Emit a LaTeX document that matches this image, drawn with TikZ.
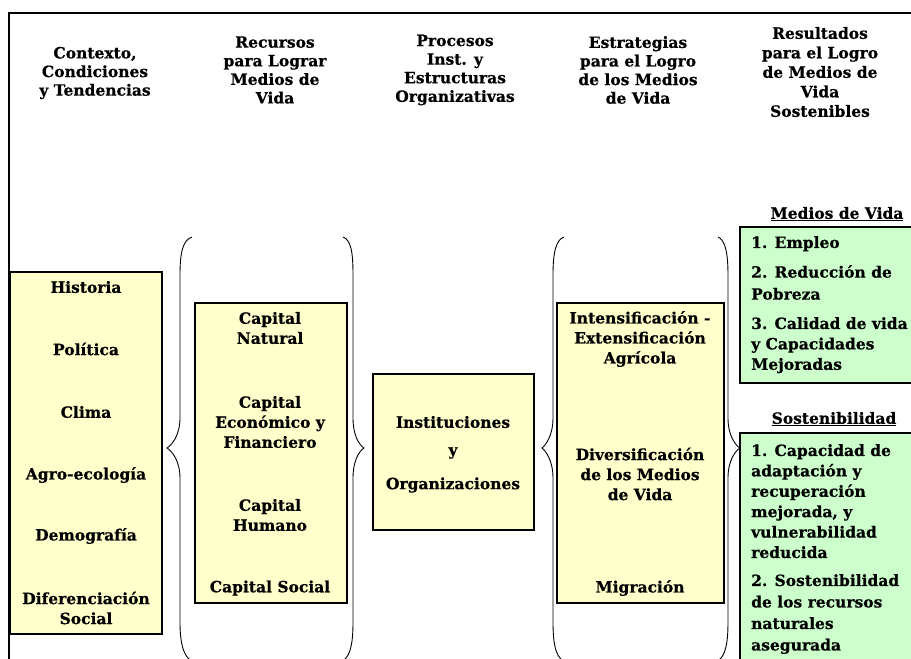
\documentclass[tikz,border=0pt]{standalone}
\usepackage{fontspec}
\setmainfont[BoldFeatures={FakeBold=0.6}]{DejaVu Serif}
\definecolor{boxyellow}{HTML}{FFFFCC}
\definecolor{boxgreen}{HTML}{CCFFCC}
\tikzset{
  txt/.style={font=\fontsize{15.5}{20}\selectfont\bfseries, inner sep=0pt, align=center},
  htxt/.style={font=\fontsize{15.5}{18.6}\selectfont\bfseries, inner sep=0pt, align=center},
  ltxt/.style={font=\fontsize{15.5}{20.4}\selectfont\bfseries, inner sep=0pt, align=left, anchor=north west},
  ybox/.style={draw=black, line width=1.1pt, fill=boxyellow},
  gbox/.style={draw=black, line width=1.1pt, fill=boxgreen},
  brace/.style={draw=black, line width=0.9pt},
}
\begin{document}
\begin{tikzpicture}[x=1pt,y=-1pt]
\useasboundingbox (0,0) rectangle (911,659);
\clip (0,0) rectangle (911,659);
% frame
\draw[line width=2pt] (911,13) -- (9,13) -- (9,660);
% headers
\node[htxt] (h1) at (95,73) {Contexto,\\Condiciones\\y Tendencias};
\node[htxt] (h2) at (275,70) {Recursos\\para Lograr\\Medios de\\Vida};
\node[htxt] (h3) at (455,70) {Procesos\\Inst. y\\Estructuras\\Organizativas};
\node[htxt] (h4) at (638,70) {Estrategias\\para el Logro\\de los Medios\\de Vida};
\node[htxt, font=\fontsize{15.5}{19.5}\selectfont\bfseries] (h5) at (820,72) {Resultados\\para el Logro\\de Medios de\\Vida\\Sostenibles};
% boxes
\draw[ybox] (10,272) rectangle (162,634);
\draw[ybox] (195,303) rectangle (347,603);
\draw[ybox] (373,374) rectangle (534,530);
\draw[ybox] (557,303) rectangle (724,603);
\draw[gbox] (740,227) rectangle (920,383);
\draw[gbox] (740,433) rectangle (920,700);
% braces
\draw[brace] (192,237) .. controls (183,240) and (180,252) .. (180,275) -- (180,418)
  .. controls (180,435) and (172,445) .. (167,448)
  .. controls (172,451) and (180,461) .. (180,478) -- (180,622)
  .. controls (180,645) and (184,655) .. (190,660);
\draw[brace] (343,237) .. controls (351,240) and (353,252) .. (353,275) -- (353,418)
  .. controls (353,435) and (359,445) .. (364,448)
  .. controls (359,451) and (353,461) .. (353,478) -- (353,622)
  .. controls (353,645) and (350,655) .. (344,660);
\draw[brace] (564,237) .. controls (556,240) and (553,252) .. (553,275) -- (553,418)
  .. controls (553,435) and (546,445) .. (542,448)
  .. controls (546,451) and (553,461) .. (553,478) -- (553,622)
  .. controls (553,645) and (556,655) .. (562,660);
\draw[brace] (718,237) .. controls (725,240) and (728,252) .. (728,275) -- (728,418)
  .. controls (728,435) and (735,445) .. (740,448)
  .. controls (735,451) and (728,461) .. (728,478) -- (728,622)
  .. controls (728,645) and (725,655) .. (719,660);
% column 1
\node[txt] (c1) at (86,287) {Historia};
\node[txt] (c2) at (86,349) {Política};
\node[txt] (c3) at (86,412) {Clima};
\node[txt] (c4) at (86,475) {Agro-ecología};
\node[txt] (c5) at (86,536) {Demografía};
\node[txt] (c6) at (86,608) {Diferenciación\\Social};
% column 2
\node[txt] (r1) at (270,328) {Capital\\Natural};
\node[txt] (r2) at (270,422) {Capital\\Económico y\\Financiero};
\node[txt] (r3) at (270,515) {Capital\\Humano};
\node[txt] (r4) at (270,588) {Capital Social};
% column 3
\node[txt] (p1) at (453,422) {Instituciones};
\node[txt] (p2) at (453,453) {y};
\node[txt] (p3) at (453,485) {Organizaciones};
% column 4
\node[txt] (e1) at (640,339) {Intensificación -\\Extensificación\\Agrícola};
\node[txt] (e2) at (640,474) {Diversificación\\de los Medios\\de Vida};
\node[txt] (e3) at (640,588) {Migración};
% column 5
\node[txt] (m0) at (837,214) {\underline{Medios de Vida}};
\node[ltxt] (m1) at (751,236) {1. Empleo};
\node[ltxt, font=\fontsize{15.5}{22}\selectfont\bfseries] (m2) at (751,265) {2. Reducción de\\Pobreza};
\node[ltxt] (m3) at (751,317) {3. Calidad de vida\\y Capacidades\\Mejoradas};
\node[txt] (s0) at (834,419) {\underline{Sostenibilidad}};
\node[ltxt] (s1) at (751,444) {1. Capacidad de\\adaptación y\\recuperación\\mejorada, y\\vulnerabilidad\\reducida};
\node[ltxt, font=\fontsize{15.5}{21.5}\selectfont\bfseries] (s2) at (751,574) {2. Sostenibilidad\\de los recursos\\naturales\\asegurada};
\end{tikzpicture}
\end{document}
